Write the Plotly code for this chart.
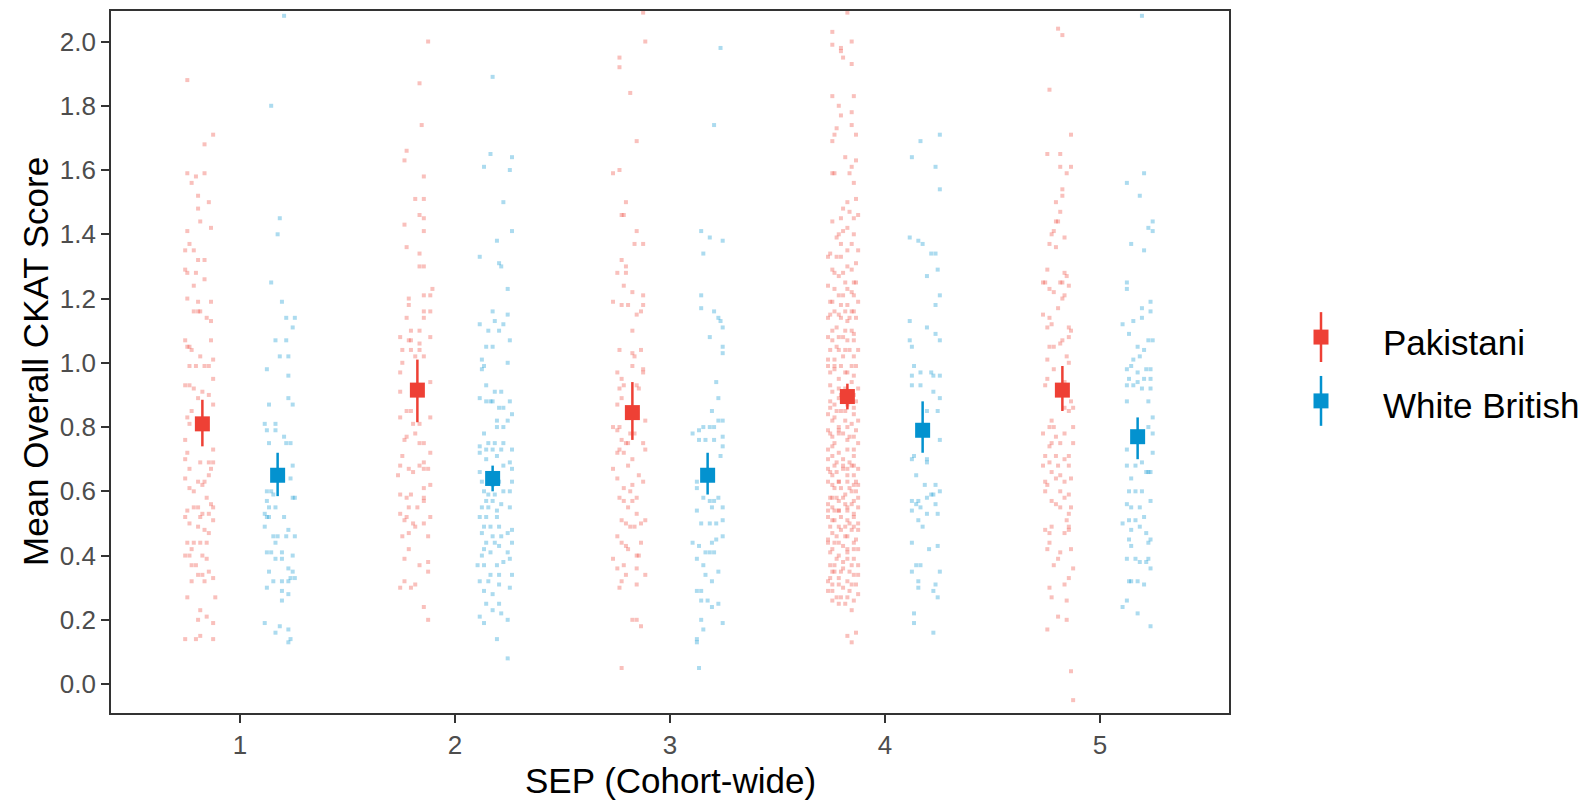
import plotly.graph_objects as go

# ---------------- data ----------------
sep_levels = [1, 2, 3, 4, 5]
groups = ["Pakistani", "White British"]

pak_mean = [0.81, 0.915, 0.845, 0.895, 0.915]
pak_lower = [0.74, 0.815, 0.76, 0.855, 0.85]
pak_upper = [0.885, 1.01, 0.94, 0.935, 0.99]

wb_mean = [0.65, 0.64, 0.65, 0.79, 0.77]
wb_lower = [0.585, 0.60, 0.59, 0.72, 0.70]
wb_upper = [0.72, 0.68, 0.72, 0.88, 0.83]

# individual scores: (jitter, score) pairs
pak_sep1 = [(-0.07,1.88),(0.05,1.71),(0.01,1.68),(-0.07,1.59),(-0.03,1.58),(0.01,1.59),(-0.05,1.56),(-0.02,1.52),(0.03,1.50),(-0.02,1.48),(-0.01,1.44),(0.04,1.42),(-0.07,1.41),(-0.06,1.37),(-0.08,1.35),(-0.04,1.35),(-0.02,1.32),(0.01,1.32),(-0.08,1.29),(-0.07,1.28),(-0.03,1.28),(0.01,1.26),(-0.04,1.24),(-0.07,1.20),(-0.02,1.19),(0.04,1.19),(-0.04,1.16),(-0.02,1.16),(-0.01,1.16),(0.02,1.14),(0.04,1.13),(-0.08,1.07),(0.04,1.07),(-0.07,1.05),(-0.06,1.05),(-0.05,1.04),(-0.01,1.02),(0.05,1.01),(-0.03,0.99),(-0.06,0.99),(0.01,0.99),(0.03,0.99),(0.05,0.95),(-0.08,0.93),(-0.06,0.93),(-0.04,0.92),(0.00,0.91),(-0.02,0.89),(0.03,0.90),(0.05,0.87),(-0.05,0.85),(-0.07,0.83),(-0.06,0.81),(-0.08,0.76),(-0.07,0.72),(0.05,0.73),(-0.08,0.70),(0.03,0.69),(0.05,0.69),(-0.01,0.69),(-0.06,0.67),(0.04,0.67),(-0.08,0.64),(-0.02,0.63),(0.01,0.63),(0.03,0.65),(-0.06,0.61),(-0.04,0.60),(0.00,0.62),(0.02,0.58),(0.04,0.56),(-0.07,0.54),(-0.04,0.55),(-0.02,0.55),(0.00,0.53),(0.05,0.55),(-0.08,0.52),(-0.01,0.52),(0.03,0.53),(-0.06,0.50),(0.05,0.51),(-0.02,0.49),(0.01,0.48),(0.03,0.47),(-0.07,0.44),(-0.04,0.44),(-0.01,0.44),(0.02,0.44),(-0.05,0.42),(-0.08,0.40),(-0.06,0.40),(0.00,0.40),(0.02,0.39),(-0.05,0.37),(-0.03,0.37),(0.03,0.35),(-0.02,0.34),(0.00,0.34),(0.05,0.33),(-0.05,0.32),(0.01,0.32),(-0.07,0.27),(0.06,0.27),(-0.01,0.23),(0.02,0.21),(-0.02,0.20),(0.05,0.19),(-0.08,0.14),(-0.03,0.14),(-0.01,0.15),(0.05,0.14)]

pak_sep2 = [(0.05,2.00),(0.01,1.87),(0.02,1.74),(-0.05,1.66),(-0.06,1.63),(0.03,1.58),(-0.01,1.51),(0.03,1.51),(0.01,1.46),(0.03,1.45),(-0.06,1.43),(0.03,1.41),(-0.05,1.36),(0.01,1.34),(0.01,1.30),(0.03,1.30),(0.07,1.23),(0.03,1.21),(0.06,1.21),(-0.04,1.20),(-0.04,1.18),(0.03,1.16),(0.06,1.16),(-0.05,1.14),(0.03,1.14),(-0.03,1.10),(0.01,1.10),(-0.08,1.08),(-0.04,1.07),(-0.03,1.07),(0.06,1.08),(0.01,1.06),(-0.07,1.04),(-0.03,1.04),(0.01,1.04),(0.03,1.02),(-0.07,1.00),(-0.01,1.02),(-0.08,0.97),(0.06,0.94),(-0.08,0.91),(-0.05,0.85),(-0.03,0.85),(-0.08,0.83),(0.06,0.83),(-0.02,0.81),(0.01,0.81),(-0.01,0.78),(-0.05,0.77),(-0.06,0.76),(0.03,0.75),(0.01,0.75),(0.06,0.72),(-0.07,0.71),(0.03,0.69),(-0.08,0.68),(-0.04,0.67),(-0.02,0.66),(0.01,0.68),(0.05,0.67),(0.03,0.67),(-0.09,0.65),(0.06,0.62),(0.03,0.61),(-0.08,0.59),(-0.05,0.58),(-0.03,0.59),(0.03,0.58),(0.03,0.57),(0.00,0.55),(-0.04,0.55),(-0.08,0.53),(-0.06,0.51),(-0.05,0.52),(0.06,0.52),(-0.02,0.50),(0.03,0.50),(-0.07,0.46),(-0.04,0.47),(-0.01,0.49),(0.05,0.46),(-0.04,0.42),(-0.06,0.39),(0.05,0.38),(0.01,0.37),(0.05,0.35),(-0.06,0.32),(-0.08,0.30),(-0.03,0.30),(-0.01,0.31),(0.03,0.24),(0.05,0.20)]

pak_sep3 = [(0.05,2.09),(0.06,2.00),(-0.06,1.95),(-0.06,1.92),(-0.01,1.84),(0.02,1.69),(-0.09,1.59),(-0.06,1.60),(-0.03,1.50),(-0.05,1.46),(-0.04,1.46),(0.02,1.41),(0.01,1.37),(0.05,1.37),(-0.05,1.32),(-0.03,1.30),(-0.07,1.28),(-0.03,1.28),(-0.04,1.24),(0.00,1.22),(0.05,1.21),(-0.09,1.19),(-0.05,1.18),(-0.02,1.18),(0.05,1.18),(0.04,1.16),(0.02,1.15),(0.00,1.10),(-0.06,1.04),(0.00,1.03),(0.04,1.04),(0.01,1.02),(0.00,0.99),(0.05,0.98),(0.05,0.97),(-0.07,0.97),(-0.05,0.95),(-0.06,0.92),(-0.04,0.93),(0.02,0.93),(0.03,0.92),(-0.05,0.89),(-0.07,0.87),(0.02,0.85),(0.06,0.82),(-0.09,0.80),(-0.06,0.80),(-0.07,0.79),(-0.01,0.78),(0.01,0.78),(0.05,0.75),(-0.05,0.76),(-0.02,0.75),(-0.03,0.75),(-0.06,0.73),(0.06,0.73),(-0.07,0.72),(-0.04,0.72),(0.00,0.70),(-0.09,0.67),(-0.02,0.68),(-0.07,0.64),(0.03,0.65),(0.05,0.63),(0.00,0.62),(-0.04,0.61),(-0.01,0.60),(0.02,0.58),(-0.06,0.58),(-0.04,0.57),(0.00,0.57),(-0.02,0.55),(0.02,0.53),(0.06,0.51),(-0.05,0.51),(-0.03,0.50),(-0.01,0.49),(0.01,0.49),(0.04,0.50),(-0.07,0.46),(-0.05,0.44),(-0.03,0.43),(0.04,0.44),(-0.02,0.42),(0.02,0.40),(0.03,0.40),(-0.09,0.39),(-0.04,0.37),(0.02,0.36),(-0.07,0.36),(-0.03,0.34),(0.06,0.34),(0.02,0.31),(-0.05,0.32),(-0.06,0.30),(0.00,0.20),(0.02,0.20),(0.04,0.18),(-0.05,0.05)]

pak_sep4 = [(0.00,2.09),(-0.07,2.03),(-0.07,1.99),(-0.03,1.98),(-0.03,1.97),(0.02,2.00),(-0.02,1.95),(0.02,1.93),(-0.07,1.83),(0.03,1.83),(-0.04,1.80),(-0.03,1.77),(0.02,1.78),(0.02,1.74),(-0.05,1.73),(-0.06,1.71),(0.04,1.71),(-0.07,1.69),(-0.01,1.64),(0.04,1.63),(0.02,1.61),(-0.07,1.59),(-0.06,1.59),(0.01,1.59),(0.03,1.56),(0.00,1.50),(0.04,1.51),(-0.02,1.48),(0.01,1.47),(-0.03,1.45),(-0.07,1.44),(0.03,1.45),(0.05,1.46),(0.00,1.42),(-0.02,1.41),(-0.04,1.40),(-0.05,1.39),(0.03,1.40),(-0.03,1.37),(0.02,1.37),(0.05,1.35),(-0.08,1.34),(-0.09,1.33),(-0.05,1.33),(0.04,1.31),(-0.07,1.29),(0.00,1.30),(-0.04,1.27),(-0.01,1.25),(0.03,1.25),(0.04,1.25),(-0.06,1.23),(0.02,1.22),(-0.02,1.21),(-0.08,1.19),(-0.04,1.21),(0.05,1.19),(0.00,1.18),(-0.06,1.16),(0.03,1.16),(-0.08,1.15),(-0.03,1.14),(0.04,1.14),(0.00,1.13),(-0.05,1.11),(0.02,1.10),(-0.09,1.08),(-0.02,1.08),(-0.07,1.07),(0.00,1.07),(0.03,1.07),(-0.04,1.04),(-0.01,1.04),(-0.06,1.01),(-0.09,1.01),(0.04,0.99),(-0.03,0.99),(0.02,0.99),(-0.06,0.98),(-0.01,0.97),(-0.04,0.95),(-0.08,0.93),(0.02,0.94),(0.05,0.92),(-0.08,0.88),(0.04,0.88),(-0.06,0.87),(0.00,0.87),(-0.03,0.85),(-0.09,0.84),(0.03,0.84),(-0.07,0.82),(0.05,0.82),(-0.04,0.80),(0.00,0.80),(-0.08,0.78),(-0.02,0.78),(0.03,0.77),(-0.06,0.75),(0.05,0.75),(-0.09,0.73),(0.00,0.73),(-0.04,0.72),(-0.07,0.71),(0.03,0.71),(-0.05,0.69),(0.01,0.69),(-0.09,0.67),(-0.02,0.67),(0.05,0.67),(-0.07,0.65),(0.03,0.65),(-0.04,0.63),(-0.09,0.63),(0.00,0.63),(0.05,0.62),(-0.06,0.61),(0.02,0.60),(-0.08,0.58),(-0.02,0.58),(-0.04,0.57),(0.03,0.57),(-0.07,0.55),(0.00,0.55),(0.05,0.55),(-0.04,0.54),(-0.09,0.52),(0.03,0.52),(-0.06,0.51),(0.00,0.51),(0.05,0.50),(-0.08,0.49),(-0.03,0.48),(0.02,0.48),(-0.05,0.46),(0.00,0.46),(0.04,0.45),(-0.09,0.44),(-0.02,0.43),(-0.07,0.42),(0.03,0.42),(-0.04,0.40),(0.00,0.39),(-0.08,0.37),(0.05,0.37),(-0.02,0.36),(-0.06,0.35),(0.03,0.34),(-0.09,0.32),(0.00,0.32),(-0.04,0.31),(0.04,0.31),(-0.07,0.29),(0.01,0.29),(-0.03,0.27),(-0.07,0.26),(0.03,0.26),(-0.01,0.25),(0.02,0.23),(0.04,0.16),(0.00,0.15),(0.02,0.13),
             (-0.09,0.99),(-0.05,1.05),(0.03,1.02),(-0.01,0.92),(-0.07,0.91),(-0.04,0.89),(0.03,0.90),(-0.01,0.85),(-0.06,0.83),(0.02,0.81),(-0.09,0.79),(-0.04,0.79),(0.00,0.76),(-0.07,0.74),(0.03,0.73),(-0.02,0.70),(-0.09,0.70),(0.02,0.68),(-0.05,0.66),(0.00,0.65),(0.04,0.63),(-0.07,0.62),(-0.03,0.61),(0.01,0.61),(-0.05,0.58),(0.05,0.58),(-0.09,0.56),(-0.01,0.56),(0.02,0.56),(-0.06,0.54),(0.03,0.53),(-0.03,0.52),(-0.07,0.51),(0.01,0.50),(-0.04,0.49),(0.05,0.48),(-0.07,0.47),(-0.01,0.46),(-0.09,0.45),(0.03,0.44),(-0.04,0.44),(0.00,0.42),(-0.08,0.41),(-0.05,0.39),(0.03,0.39),(-0.02,0.38),(-0.07,0.35),(0.01,0.35),(0.05,0.34),(-0.04,0.33),(-0.07,0.31),(0.02,0.31),(-0.02,0.30),(-0.05,0.27),(0.05,0.28),(-0.09,0.29),(0.00,0.27),(-0.04,0.25),(-0.09,1.14),(-0.04,1.15),(0.01,1.14),(-0.07,1.10),(-0.01,1.10),(0.03,1.09),(-0.04,1.08),(-0.08,1.04),(0.01,1.04),(0.05,1.04),(-0.02,1.02),(-0.06,0.99),(0.00,0.97),(-0.08,0.97),(0.03,0.96),(-0.04,0.92),(0.00,0.91),(-0.03,0.90),(-0.08,0.86),(0.03,0.86),(-0.05,0.85),(-0.01,0.82),(-0.04,0.78),(-0.07,0.77),(0.01,0.77),(0.04,0.79),(-0.02,0.68),(-0.06,0.68),(0.03,0.68),(-0.08,0.66),(0.00,0.67),(-0.04,0.63),(0.03,0.62),(-0.01,0.59),(-0.07,0.58),(0.04,0.60),(-0.04,0.54),(0.00,0.54),(-0.09,0.54),(-0.01,0.49),(0.03,0.49),(-0.06,0.44),(0.05,0.42),(0.00,0.41),(-0.03,0.35),(-0.08,0.33),(0.02,0.37),(-0.06,0.37),(0.00,1.35),(-0.03,1.33),(0.02,1.29),(-0.06,1.28),(-0.02,1.28),(-0.09,1.24),(0.00,1.23),(0.03,1.21),(-0.03,1.18),(-0.07,1.19),(0.02,1.16),(-0.01,1.16)]

pak_sep5 = [(-0.02,2.04),(0.00,2.02),(-0.06,1.85),(0.04,1.71),(-0.07,1.65),(-0.01,1.65),(-0.01,1.61),(0.04,1.61),(0.02,1.59),(0.00,1.54),(0.00,1.52),(-0.03,1.50),(-0.01,1.47),(-0.03,1.44),(-0.02,1.44),(-0.04,1.41),(-0.05,1.40),(0.01,1.39),(-0.06,1.37),(-0.03,1.36),(-0.07,1.29),(0.01,1.28),(0.02,1.27),(-0.09,1.25),(-0.08,1.25),(-0.01,1.25),(0.00,1.25),(0.03,1.24),(-0.06,1.23),(-0.04,1.22),(0.01,1.21),(0.00,1.20),(-0.02,1.17),(-0.09,1.15),(-0.06,1.14),(-0.07,1.11),(-0.05,1.12),(0.03,1.11),(0.04,1.10),(0.03,1.08),(0.00,1.07),(-0.01,1.06),(-0.04,1.05),(-0.06,1.05),(0.02,1.02),(-0.07,1.01),(0.03,1.00),(-0.04,0.98),(-0.07,0.95),(-0.08,0.93),(0.01,0.94),(0.02,0.92),(-0.01,0.91),(0.04,0.88),(0.01,0.86),(0.03,0.85),(0.05,0.86),(-0.05,0.82),(-0.04,0.80),(-0.06,0.80),(0.05,0.80),(-0.09,0.78),(0.01,0.78),(-0.03,0.77),(-0.05,0.75),(-0.01,0.75),(0.05,0.75),(-0.06,0.74),(-0.08,0.71),(-0.03,0.71),(0.03,0.71),(0.01,0.70),(-0.06,0.69),(-0.09,0.68),(0.03,0.68),(-0.02,0.68),(-0.05,0.66),(-0.01,0.65),(0.04,0.64),(-0.08,0.63),(-0.07,0.62),(-0.03,0.64),(0.01,0.63),(-0.08,0.60),(-0.01,0.60),(0.03,0.59),(-0.05,0.57),(-0.03,0.56),(0.01,0.58),(0.04,0.55),(-0.01,0.55),(0.03,0.53),(0.02,0.51),(0.03,0.49),(-0.08,0.48),(-0.05,0.49),(-0.06,0.47),(0.01,0.47),(0.03,0.48),(-0.06,0.44),(-0.07,0.42),(0.04,0.42),(-0.01,0.41),(-0.02,0.39),(-0.04,0.37),(0.05,0.36),(0.01,0.31),(0.03,0.33),(-0.06,0.30),(-0.05,0.27),(0.02,0.26),(-0.02,0.21),(0.02,0.20),(-0.07,0.17),(0.04,0.04),(0.05,-0.05)]

wb_sep1 = [(0.03,2.08),(-0.03,1.80),(0.01,1.45),(0.00,1.40),(-0.03,1.25),(0.02,1.19),(0.04,1.14),(0.08,1.14),(0.07,1.11),(-0.01,1.07),(0.04,1.07),(0.01,1.02),(0.05,1.02),(-0.05,0.98),(0.05,0.96),(0.05,0.89),(0.07,0.87),(-0.04,0.87),(-0.06,0.81),(-0.01,0.81),(-0.05,0.79),(-0.01,0.79),(0.03,0.77),(-0.04,0.75),(0.04,0.75),(0.06,0.75),(0.07,0.68),(0.06,0.64),(-0.05,0.60),(-0.03,0.60),(-0.02,0.59),(-0.05,0.57),(0.07,0.58),(0.08,0.58),(-0.04,0.55),(-0.01,0.55),(-0.06,0.53),(-0.04,0.52),(-0.05,0.52),(0.03,0.52),(-0.06,0.49),(0.05,0.48),(-0.02,0.46),(0.00,0.46),(0.04,0.46),(0.08,0.46),(-0.01,0.44),(-0.05,0.41),(-0.03,0.41),(0.02,0.41),(0.07,0.40),(0.02,0.39),(-0.01,0.39),(0.05,0.36),(-0.04,0.35),(0.07,0.35),(0.06,0.33),(0.08,0.33),(-0.02,0.32),(0.02,0.32),(-0.05,0.30),(0.05,0.32),(0.02,0.29),(0.02,0.26),(0.05,0.28),(-0.06,0.19),(0.01,0.18),(-0.01,0.16),(0.05,0.17),(0.06,0.14),(0.05,0.13)]

wb_sep2 = [(0.00,1.89),(-0.01,1.65),(-0.04,1.61),(0.09,1.64),(0.08,1.60),(0.05,1.50),(0.09,1.41),(0.02,1.38),(-0.06,1.33),(0.03,1.31),(0.04,1.30),(0.07,1.23),(0.00,1.16),(0.07,1.15),(-0.06,1.12),(-0.02,1.10),(0.01,1.13),(0.03,1.10),(0.05,1.12),(0.08,1.07),(-0.03,1.05),(0.00,1.05),(0.07,1.00),(-0.05,1.01),(-0.04,0.99),(-0.05,0.98),(-0.03,0.93),(0.01,0.91),(0.04,0.91),(-0.06,0.89),(-0.03,0.88),(-0.01,0.88),(0.00,0.88),(0.08,0.88),(0.03,0.86),(0.05,0.86),(0.09,0.84),(0.02,0.82),(0.07,0.82),(0.02,0.80),(0.05,0.80),(-0.04,0.78),(-0.02,0.75),(0.01,0.75),(0.05,0.75),(-0.06,0.74),(-0.03,0.73),(0.00,0.73),(0.04,0.73),(0.09,0.73),(-0.06,0.72),(0.02,0.71),(-0.03,0.70),(0.08,0.69),(0.05,0.68),(0.09,0.67),(-0.06,0.66),(-0.05,0.63),(0.00,0.62),(0.03,0.63),(0.09,0.63),(-0.04,0.60),(-0.02,0.59),(0.01,0.59),(0.05,0.60),(0.08,0.60),(-0.03,0.57),(0.00,0.57),(0.04,0.56),(-0.05,0.55),(-0.02,0.55),(0.02,0.54),(0.08,0.55),(-0.06,0.52),(-0.03,0.52),(0.02,0.52),(-0.04,0.49),(-0.01,0.49),(0.03,0.49),(0.09,0.48),(-0.05,0.47),(0.00,0.46),(0.04,0.46),(0.07,0.47),(-0.03,0.44),(0.01,0.44),(0.09,0.44),(-0.04,0.42),(0.03,0.43),(-0.05,0.40),(-0.01,0.41),(0.07,0.41),(0.08,0.39),(-0.07,0.37),(-0.04,0.37),(0.02,0.37),(0.05,0.38),(-0.01,0.34),(0.03,0.34),(0.09,0.34),(-0.06,0.32),(-0.02,0.32),(0.03,0.31),(0.08,0.30),(-0.04,0.29),(0.00,0.28),(-0.03,0.25),(0.03,0.25),(0.00,0.23),(0.04,0.22),(-0.06,0.21),(-0.04,0.19),(0.07,0.20),(0.02,0.14),(0.07,0.08)]

wb_sep3 = [(0.06,1.98),(0.03,1.74),(-0.03,1.41),(0.01,1.39),(0.07,1.38),(-0.02,1.34),(-0.03,1.21),(-0.03,1.17),(0.03,1.16),(0.05,1.14),(0.06,1.13),(0.07,1.11),(0.01,1.08),(0.07,1.05),(0.07,1.03),(0.04,0.94),(0.05,0.89),(0.02,0.85),(0.07,0.82),(0.05,0.82),(0.03,0.80),(0.01,0.80),(-0.02,0.80),(-0.04,0.79),(-0.07,0.78),(-0.04,0.76),(-0.01,0.76),(0.03,0.76),(0.07,0.77),(0.07,0.74),(0.06,0.71),(-0.05,0.63),(-0.05,0.61),(-0.02,0.58),(0.01,0.57),(0.03,0.57),(0.05,0.58),(0.02,0.55),(0.07,0.55),(-0.05,0.54),(-0.03,0.50),(0.01,0.50),(0.04,0.50),(0.07,0.51),(0.07,0.46),(0.04,0.45),(0.02,0.44),(-0.07,0.44),(-0.04,0.43),(-0.01,0.41),(0.01,0.41),(0.03,0.41),(-0.05,0.39),(-0.02,0.37),(-0.01,0.34),(0.02,0.32),(0.05,0.35),(-0.05,0.29),(-0.03,0.29),(-0.03,0.26),(0.00,0.26),(0.02,0.24),(0.05,0.25),(0.07,0.19),(-0.03,0.20),(-0.02,0.17),(-0.05,0.14),(-0.05,0.13),(-0.04,0.05)]

wb_sep4 = [(0.08,1.71),(-0.01,1.69),(-0.05,1.64),(0.06,1.61),(0.08,1.54),(-0.06,1.39),(-0.02,1.38),(0.00,1.37),(0.04,1.34),(0.06,1.34),(0.07,1.29),(0.02,1.27),(0.08,1.21),(0.06,1.18),(-0.06,1.13),(0.02,1.11),(0.06,1.09),(-0.06,1.07),(-0.05,1.05),(0.08,1.07),(-0.04,0.99),(-0.01,0.97),(0.04,0.97),(-0.05,0.96),(0.05,0.96),(0.08,0.96),(-0.05,0.93),(-0.01,0.93),(0.05,0.91),(0.08,0.89),(0.02,0.85),(0.07,0.85),(0.08,0.76),(-0.05,0.70),(-0.04,0.71),(0.02,0.70),(0.02,0.69),(-0.03,0.65),(0.01,0.62),(0.06,0.62),(-0.05,0.57),(-0.02,0.57),(0.02,0.58),(0.04,0.59),(0.05,0.59),(0.08,0.60),(-0.03,0.56),(-0.01,0.55),(0.06,0.56),(-0.05,0.54),(0.02,0.53),(0.07,0.53),(-0.02,0.51),(0.00,0.49),(-0.05,0.44),(0.07,0.43),(0.03,0.42),(-0.03,0.37),(-0.01,0.37),(-0.05,0.35),(0.08,0.35),(-0.02,0.32),(-0.02,0.30),(0.06,0.31),(0.05,0.29),(0.07,0.27),(-0.04,0.22),(-0.04,0.19),(0.05,0.16)]

wb_sep5 = [(0.02,2.08),(-0.05,1.56),(0.03,1.59),(0.01,1.52),(0.07,1.44),(0.05,1.42),(0.07,1.41),(-0.03,1.37),(0.03,1.35),(-0.05,1.25),(-0.05,1.23),(0.06,1.19),(0.02,1.17),(0.06,1.16),(0.02,1.14),(-0.07,1.12),(-0.02,1.13),(-0.04,1.09),(0.05,1.07),(0.07,1.07),(0.00,1.05),(0.03,1.04),(0.01,1.02),(-0.02,1.01),(-0.05,0.98),(-0.03,0.99),(0.00,0.97),(0.04,0.98),(0.06,0.98),(-0.04,0.95),(0.00,0.94),(0.03,0.95),(0.06,0.95),(-0.05,0.93),(-0.02,0.93),(0.02,0.92),(0.06,0.92),(-0.05,0.88),(0.05,0.88),(0.07,0.83),(0.05,0.80),(0.07,0.78),(-0.05,0.73),(0.07,0.72),(-0.05,0.68),(-0.01,0.68),(0.02,0.69),(0.04,0.66),(0.06,0.66),(-0.03,0.64),(0.05,0.66),(-0.04,0.60),(-0.01,0.60),(0.02,0.60),(0.06,0.57),(-0.05,0.56),(0.01,0.55),(-0.03,0.55),(0.03,0.52),(-0.07,0.50),(-0.04,0.51),(-0.01,0.51),(0.01,0.49),(-0.03,0.48),(0.04,0.47),(0.06,0.45),(0.05,0.44),(-0.04,0.45),(-0.03,0.43),(-0.05,0.39),(-0.01,0.39),(0.01,0.38),(0.04,0.38),(0.05,0.39),(0.06,0.36),(-0.03,0.32),(-0.04,0.32),(0.00,0.32),(0.03,0.31),(-0.07,0.24),(-0.05,0.26),(0.00,0.22),(0.06,0.18)]

pak_points = [pak_sep1, pak_sep2, pak_sep3, pak_sep4, pak_sep5]
wb_points = [wb_sep1, wb_sep2, wb_sep3, wb_sep4, wb_sep5]

x_ticks = [1, 2, 3, 4, 5]
y_ticks = [0.0, 0.2, 0.4, 0.6, 0.8, 1.0, 1.2, 1.4, 1.6, 1.8, 2.0]
y_tick_labels = ["0.0", "0.2", "0.4", "0.6", "0.8", "1.0", "1.2", "1.4", "1.6", "1.8", "2.0"]

# ---------------- styling ----------------
RED = "#EE4035"
BLUE = "#0392CF"
DODGE = 0.175
FONT = "Liberation Sans, Arial, sans-serif"

W, H = 1584, 803
ML, MR, MT, MB = 111, 355, 9, 90
PW = W - ML - MR
PH = H - MT - MB


def expand(points_by_sep, offset):
    xs, ys = [], []
    for sep, pts in zip(sep_levels, points_by_sep):
        for j, v in pts:
            xs.append(sep + offset + j)
            ys.append(v)
    return xs, ys


fig = go.Figure()

for pts, off, col in [(pak_points, -DODGE, RED), (wb_points, DODGE, BLUE)]:
    xs, ys = expand(pts, off)
    fig.add_trace(go.Scatter(
        x=xs, y=ys, mode="markers",
        marker=dict(symbol="square", size=4, color=col, opacity=0.33, line=dict(width=0)),
        showlegend=False, hoverinfo="skip"))

for mean, lo, hi, off, col, name in [
        (pak_mean, pak_lower, pak_upper, -DODGE, RED, groups[0]),
        (wb_mean, wb_lower, wb_upper, DODGE, BLUE, groups[1])]:
    fig.add_trace(go.Scatter(
        x=[s + off for s in sep_levels], y=mean, mode="markers", name=name,
        marker=dict(symbol="square", size=15, color=col, line=dict(width=0)),
        error_y=dict(type="data", symmetric=False,
                     array=[h - m for h, m in zip(hi, mean)],
                     arrayminus=[m - l for m, l in zip(mean, lo)],
                     color=col, thickness=2.5, width=0),
        showlegend=False))

axis_common = dict(showgrid=False, zeroline=False, showline=True, mirror=True,
                   linecolor="#333333", linewidth=1.8, ticks="outside", ticklen=8,
                   tickwidth=1.5, tickcolor="#333333",
                   tickfont=dict(family=FONT, size=26, color="#4D4D4D"))

fig.update_xaxes(range=[0.4, 5.6], tickvals=x_ticks, ticktext=[str(t) for t in x_ticks], **axis_common)
fig.update_yaxes(range=[-0.09, 2.095], tickvals=y_ticks, ticktext=y_tick_labels, **axis_common)


def px_x(px):
    return (px - ML) / PW


def px_y(py):
    return (H - MB - py) / PH


annotations = [
    dict(text="SEP (Cohort-wide)", x=px_x(670), y=px_y(781), xref="paper", yref="paper",
         showarrow=False, xanchor="center", yanchor="middle",
         font=dict(family=FONT, size=35, color="#000000")),
    dict(text="Mean Overall CKAT Score", x=px_x(35), y=px_y(361), xref="paper", yref="paper",
         showarrow=False, xanchor="center", yanchor="middle", textangle=-90,
         font=dict(family=FONT, size=35, color="#000000")),
]

shapes = []
legend_rows = [(groups[0], RED, 336, 341), (groups[1], BLUE, 400, 405)]
for name, col, ky, ty in legend_rows:
    kx = 1321
    shapes.append(dict(type="line", xref="paper", yref="paper",
                       x0=px_x(kx), x1=px_x(kx), y0=px_y(ky - 25), y1=px_y(ky + 25),
                       line=dict(color=col, width=2.5)))
    shapes.append(dict(type="rect", xref="paper", yref="paper",
                       x0=px_x(kx - 7.5), x1=px_x(kx + 7.5), y0=px_y(ky - 7.5), y1=px_y(ky + 7.5),
                       fillcolor=col, line=dict(width=0)))
    annotations.append(dict(text=name, x=px_x(1381), y=px_y(ty), xref="paper", yref="paper",
                            showarrow=False, xanchor="left", yanchor="middle",
                            font=dict(family=FONT, size=35, color="#000000")))

fig.update_layout(
    width=W, height=H,
    margin=dict(l=ML, r=MR, t=MT, b=MB, pad=0),
    paper_bgcolor="white", plot_bgcolor="white",
    showlegend=False,
    annotations=annotations, shapes=shapes,
)

fig.write_html("out.html")
